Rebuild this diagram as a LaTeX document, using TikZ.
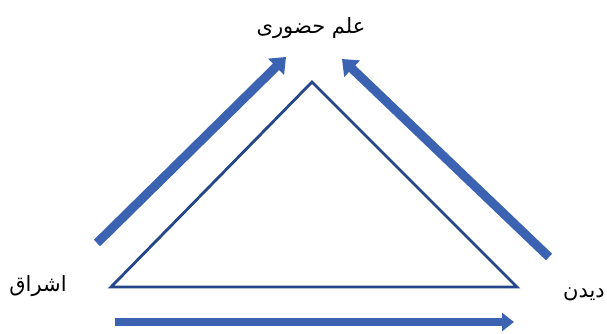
\documentclass[tikz,border=0pt]{standalone}
\usepackage{fontspec}
\usepackage{tikz}
\usetikzlibrary{arrows.meta}
\newfontfamily\arabicfont[Script=Arabic]{DejaVu Sans}
\TeXXeTstate=1
\definecolor{arrowblue}{RGB}{60,98,178}
\definecolor{edgeblue}{RGB}{38,70,138}

\begin{document}
\begin{tikzpicture}[x=1pt, y=-1pt,
    word/.style={font=\arabicfont\fontsize{21}{24}\selectfont, inner sep=0pt},
    bigarrow/.style={arrowblue, line width=9pt, -{Triangle[length=14pt, width=22pt]}},
    lowarrow/.style={arrowblue, line width=8pt, -{Triangle[length=12pt, width=18pt]}},
    edge/.style={edgeblue, line width=2.8pt, line join=miter}]
    \useasboundingbox (0,0) rectangle (607,334);

    % Triangle
    \coordinate (apex) at (312,82);
    \coordinate (leftcorner) at (111,287);
    \coordinate (rightcorner) at (517,287);
    \draw[edge] (leftcorner) -- (apex) -- (rightcorner) -- cycle;

    % Labels
    \node[word] (hozuri) at (311,28) {\beginR علم حضوری\endR};
    \node[word] (eshragh) at (38,286) {\beginR اشراق\endR};
    \node[word] (didan) at (584,294) {\beginR دیدن\endR};

    % Arrows
    \coordinate (leftstart) at (97,243);
    \coordinate (leftend) at (286,57);
    \coordinate (rightstart) at (549,257);
    \coordinate (rightend) at (342,59);
    \coordinate (lowstart) at (115,322);
    \coordinate (lowend) at (514,322);
    \draw[bigarrow] (leftstart) -- (leftend); % up to hozuri
    \draw[bigarrow] (rightstart) -- (rightend); % up to hozuri
    \draw[lowarrow] (lowstart) -- (lowend); % eshragh to didan
\end{tikzpicture}
\end{document}
